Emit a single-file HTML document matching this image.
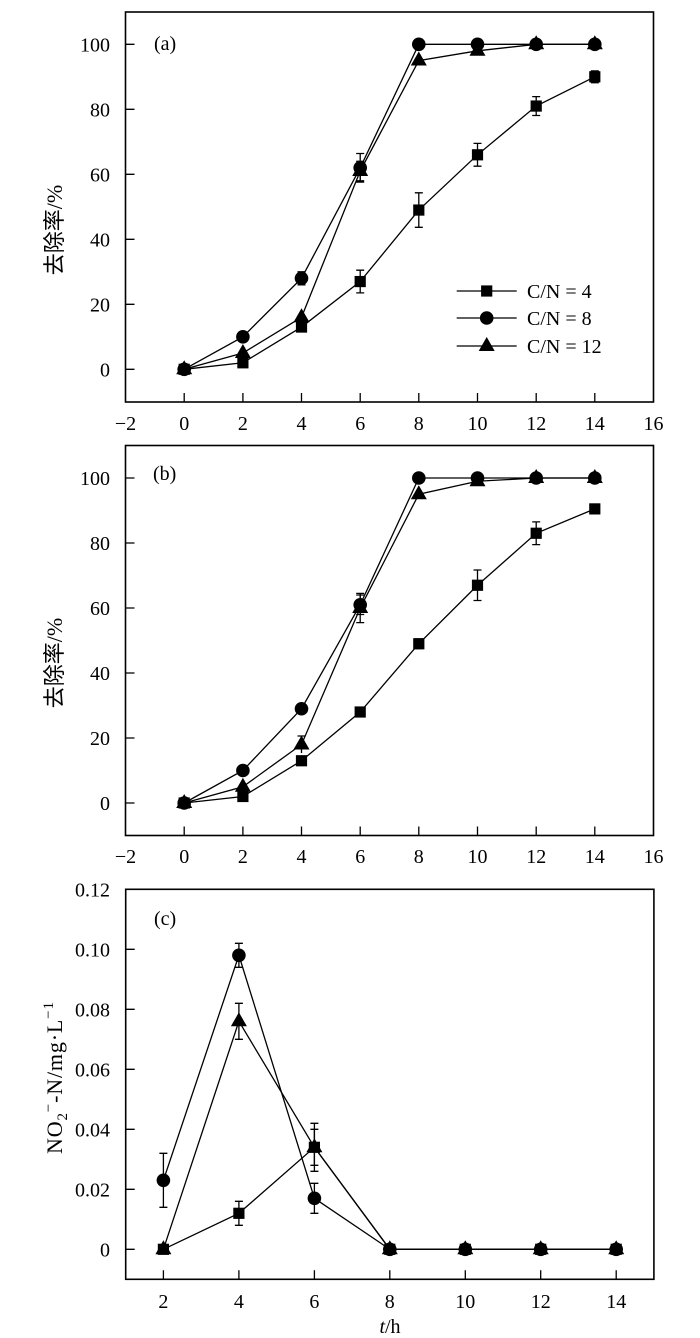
<!DOCTYPE html>
<html>
<head>
<meta charset="utf-8">
<style>
html,body{margin:0;padding:0;background:#fff;}
svg{display:block;}
text{font-family:"Liberation Serif","Noto Serif CJK SC",serif;font-size:20px;fill:#000;}
.cjk{font-family:"Liberation Serif","Noto Sans CJK SC",sans-serif;font-size:22px;}
</style>
</head>
<body>
<svg width="700" height="1338" viewBox="0 0 700 1338" xmlns="http://www.w3.org/2000/svg">
<defs>
  <rect id="sq" x="-5.6" y="-5.6" width="11.2" height="11.2" fill="#000"/>
  <circle id="ci" cx="0" cy="0" r="6.8" fill="#000"/>
  <path id="tr" d="M0,-9 L8,5 L-8,5 Z" fill="#000"/>
</defs>

<!-- ================= PANEL A ================= -->
<g fill="none" stroke="#000" stroke-width="1.3">
  <rect x="125.5" y="12" width="528" height="390" stroke-width="1.6"/>
  <path d="M125.5,369.3h9 M125.5,304.3h9 M125.5,239.3h9 M125.5,174.3h9 M125.5,109.3h9 M125.5,44.3h9"/>
  <path d="M184.2,402v-9 M242.9,402v-9 M301.5,402v-9 M360.2,402v-9 M418.8,402v-9 M477.5,402v-9 M536.2,402v-9 M594.8,402v-9"/>
</g>
<g text-anchor="end">
  <text x="110" y="376.3">0</text>
  <text x="110" y="311.3">20</text>
  <text x="110" y="246.3">40</text>
  <text x="110" y="181.3">60</text>
  <text x="110" y="116.3">80</text>
  <text x="110" y="51.3">100</text>
</g>
<g text-anchor="middle">
  <text x="125.5" y="430">−2</text>
  <text x="184.2" y="430">0</text>
  <text x="242.9" y="430">2</text>
  <text x="301.5" y="430">4</text>
  <text x="360.2" y="430">6</text>
  <text x="418.8" y="430">8</text>
  <text x="477.5" y="430">10</text>
  <text x="536.2" y="430">12</text>
  <text x="594.8" y="430">14</text>
  <text x="653.5" y="430">16</text>
</g>
<text x="154" y="50">(a)</text>
<text class="cjk" transform="translate(62,230) rotate(-90)" text-anchor="middle">去除率/%</text>

<!-- series a: square -->
<g stroke="#000" stroke-width="1.3" fill="none">
  <path d="M360.2,270.2V292.9 M356.2,270.2h8 M356.2,292.9h8"/>
  <path d="M418.8,192.8V227.3 M414.8,192.8h8 M414.8,227.3h8"/>
  <path d="M477.5,143.4V166.2 M473.5,143.4h8 M473.5,166.2h8"/>
  <path d="M536.2,96.6V115.5 M532.2,96.6h8 M532.2,115.5h8"/>
  <path d="M594.8,70.9V82.7 M590.8,70.9h8 M590.8,82.7h8"/>
  <polyline points="184.2,369.3 242.9,362.8 301.5,327.05 360.2,281.55 418.8,210.05 477.5,154.8 536.2,106.05 594.8,76.8"/>
</g>
<use href="#sq" x="184.2" y="369.3"/><use href="#sq" x="242.9" y="362.8"/><use href="#sq" x="301.5" y="327.05"/><use href="#sq" x="360.2" y="281.55"/><use href="#sq" x="418.8" y="210.05"/><use href="#sq" x="477.5" y="154.8"/><use href="#sq" x="536.2" y="106.05"/><use href="#sq" x="594.8" y="76.8"/>
<!-- circle -->
<g stroke="#000" stroke-width="1.3" fill="none">
  <path d="M301.5,271.8V284.8 M297.5,271.8h8 M297.5,284.8h8"/>
  <path d="M360.2,153.5V182.1 M356.2,153.5h8 M356.2,182.1h8"/>
  <polyline points="184.2,369.3 242.9,336.8 301.5,278.3 360.2,167.8 418.8,44.3 477.5,44.3 536.2,44.3 594.8,44.3"/>
</g>
<use href="#ci" x="184.2" y="369.3"/><use href="#ci" x="242.9" y="336.8"/><use href="#ci" x="301.5" y="278.3"/><use href="#ci" x="360.2" y="167.8"/><use href="#ci" x="418.8" y="44.3"/><use href="#ci" x="477.5" y="44.3"/><use href="#ci" x="536.2" y="44.3"/><use href="#ci" x="594.8" y="44.3"/>
<!-- triangle -->
<g stroke="#000" stroke-width="1.3" fill="none">
  <path d="M360.2,161.3V180.8 M356.2,161.3h8 M356.2,180.8h8"/>
  <polyline points="184.2,369.3 242.9,353.05 301.5,317.3 360.2,171.05 418.8,60.55 477.5,50.8 536.2,44.3 594.8,44.3"/>
</g>
<use href="#tr" x="184.2" y="369.3"/><use href="#tr" x="242.9" y="353.05"/><use href="#tr" x="301.5" y="317.3"/><use href="#tr" x="360.2" y="171.05"/><use href="#tr" x="418.8" y="60.55"/><use href="#tr" x="477.5" y="50.8"/><use href="#tr" x="536.2" y="44.3"/><use href="#tr" x="594.8" y="44.3"/>

<!-- legend -->
<g stroke="#000" stroke-width="1.3">
  <path d="M456.7,291H516.7 M456.7,318H516.7 M456.7,346H516.7"/>
</g>
<use href="#sq" x="486.7" y="291"/>
<use href="#ci" x="486.7" y="318"/>
<use href="#tr" x="486.7" y="346"/>
<text x="527" y="298">C/N = 4</text>
<text x="527" y="325">C/N = 8</text>
<text x="527" y="353">C/N = 12</text>

<!-- ================= PANEL B ================= -->
<g fill="none" stroke="#000" stroke-width="1.3">
  <rect x="125.5" y="445.5" width="528" height="390" stroke-width="1.6"/>
  <path d="M125.5,803h9 M125.5,738h9 M125.5,673h9 M125.5,608h9 M125.5,543h9 M125.5,478h9"/>
  <path d="M184.2,835.5v-9 M242.9,835.5v-9 M301.5,835.5v-9 M360.2,835.5v-9 M418.8,835.5v-9 M477.5,835.5v-9 M536.2,835.5v-9 M594.8,835.5v-9"/>
</g>
<g text-anchor="end">
  <text x="110" y="810">0</text>
  <text x="110" y="745">20</text>
  <text x="110" y="680">40</text>
  <text x="110" y="615">60</text>
  <text x="110" y="550">80</text>
  <text x="110" y="485">100</text>
</g>
<g text-anchor="middle">
  <text x="125.5" y="863">−2</text>
  <text x="184.2" y="863">0</text>
  <text x="242.9" y="863">2</text>
  <text x="301.5" y="863">4</text>
  <text x="360.2" y="863">6</text>
  <text x="418.8" y="863">8</text>
  <text x="477.5" y="863">10</text>
  <text x="536.2" y="863">12</text>
  <text x="594.8" y="863">14</text>
  <text x="653.5" y="863">16</text>
</g>
<text x="153" y="480">(b)</text>
<text class="cjk" transform="translate(62,663) rotate(-90)" text-anchor="middle">去除率/%</text>

<!-- square b -->
<g stroke="#000" stroke-width="1.3" fill="none">
  <path d="M418.8,638.9V648.6 M414.8,638.9h8 M414.8,648.6h8"/>
  <path d="M477.5,570V600.5 M473.5,570h8 M473.5,600.5h8"/>
  <path d="M536.2,521.9V544.6 M532.2,521.9h8 M532.2,544.6h8"/>
  <polyline points="184.2,803 242.9,796.5 301.5,760.75 360.2,712 418.8,643.75 477.5,585.25 536.2,533.25 594.8,508.9"/>
</g>
<use href="#sq" x="184.2" y="803"/><use href="#sq" x="242.9" y="796.5"/><use href="#sq" x="301.5" y="760.75"/><use href="#sq" x="360.2" y="712"/><use href="#sq" x="418.8" y="643.75"/><use href="#sq" x="477.5" y="585.25"/><use href="#sq" x="536.2" y="533.25"/><use href="#sq" x="594.8" y="508.9"/>
<!-- circle b -->
<g stroke="#000" stroke-width="1.3" fill="none">
  <path d="M360.2,595V614.5 M356.2,595h8 M356.2,614.5h8"/>
  <polyline points="184.2,803 242.9,770.5 301.5,708.75 360.2,604.75 418.8,478 477.5,478 536.2,478 594.8,478"/>
</g>
<use href="#ci" x="184.2" y="803"/><use href="#ci" x="242.9" y="770.5"/><use href="#ci" x="301.5" y="708.75"/><use href="#ci" x="360.2" y="604.75"/><use href="#ci" x="418.8" y="478"/><use href="#ci" x="477.5" y="478"/><use href="#ci" x="536.2" y="478"/><use href="#ci" x="594.8" y="478"/>
<!-- triangle b -->
<g stroke="#000" stroke-width="1.3" fill="none">
  <path d="M301.5,736V753 M297.5,736h8"/>
  <path d="M360.2,593.4V622.6 M356.2,593.4h8 M356.2,622.6h8"/>
  <polyline points="184.2,803 242.9,786.75 301.5,744.5 360.2,608 418.8,494.25 477.5,481.25 536.2,478 594.8,478"/>
</g>
<use href="#tr" x="184.2" y="803"/><use href="#tr" x="242.9" y="786.75"/><use href="#tr" x="301.5" y="744.5"/><use href="#tr" x="360.2" y="608"/><use href="#tr" x="418.8" y="494.25"/><use href="#tr" x="477.5" y="481.25"/><use href="#tr" x="536.2" y="478"/><use href="#tr" x="594.8" y="478"/>

<!-- ================= PANEL C ================= -->
<g fill="none" stroke="#000" stroke-width="1.3">
  <rect x="125.7" y="889.3" width="528.2" height="390" stroke-width="1.6"/>
  <path d="M125.7,1249.3h9 M125.7,1189.3h9 M125.7,1129.3h9 M125.7,1069.3h9 M125.7,1009.3h9 M125.7,949.3h9"/>
  <path d="M163.4,1279.3v-9 M238.9,1279.3v-9 M314.4,1279.3v-9 M389.8,1279.3v-9 M465.3,1279.3v-9 M540.7,1279.3v-9 M616.2,1279.3v-9"/>
</g>
<g text-anchor="end">
  <text x="110" y="1256.3">0</text>
  <text x="110" y="1196.3">0.02</text>
  <text x="110" y="1136.3">0.04</text>
  <text x="110" y="1076.3">0.06</text>
  <text x="110" y="1016.3">0.08</text>
  <text x="110" y="956.3">0.10</text>
  <text x="110" y="896.3">0.12</text>
</g>
<g text-anchor="middle">
  <text x="163.4" y="1308">2</text>
  <text x="238.9" y="1308">4</text>
  <text x="314.4" y="1308">6</text>
  <text x="389.8" y="1308">8</text>
  <text x="465.3" y="1308">10</text>
  <text x="540.7" y="1308">12</text>
  <text x="616.2" y="1308">14</text>
  <text x="390" y="1333"><tspan style="font-style:italic">t</tspan>/h</text>
</g>
<text x="154" y="925">(c)</text>
<text transform="translate(62,1078) rotate(-90)" text-anchor="middle" style="font-size:22px" textLength="152" lengthAdjust="spacing">NO<tspan style="font-size:15px" dy="5">2</tspan><tspan style="font-size:15px" dy="-14">−</tspan><tspan style="font-size:22px" dy="9">-N/mg·L</tspan><tspan style="font-size:15px" dy="-9">−1</tspan></text>

<!-- square c -->
<g stroke="#000" stroke-width="1.3" fill="none">
  <path d="M238.9,1201.3V1225.3 M234.9,1201.3h8 M234.9,1225.3h8"/>
  <path d="M314.4,1123.3V1171.3 M310.4,1123.3h8 M310.4,1171.3h8"/>
  <polyline points="163.4,1249.3 238.9,1213.3 314.4,1147.3 389.8,1249.3 465.3,1249.3 540.7,1249.3 616.2,1249.3"/>
</g>
<use href="#sq" x="163.4" y="1249.3"/><use href="#sq" x="238.9" y="1213.3"/><use href="#sq" x="314.4" y="1147.3"/><use href="#sq" x="389.8" y="1249.3"/><use href="#sq" x="465.3" y="1249.3"/><use href="#sq" x="540.7" y="1249.3"/><use href="#sq" x="616.2" y="1249.3"/>
<!-- circle c -->
<g stroke="#000" stroke-width="1.3" fill="none">
  <path d="M163.4,1153.3V1207.3 M159.4,1153.3h8 M159.4,1207.3h8"/>
  <path d="M238.9,943.3V967.3 M234.9,943.3h8 M234.9,967.3h8"/>
  <path d="M314.4,1183.3V1213.3 M310.4,1183.3h8 M310.4,1213.3h8"/>
  <polyline points="163.4,1180.3 238.9,955.3 314.4,1198.3 389.8,1249.3 465.3,1249.3 540.7,1249.3 616.2,1249.3"/>
</g>
<use href="#ci" x="163.4" y="1180.3"/><use href="#ci" x="238.9" y="955.3"/><use href="#ci" x="314.4" y="1198.3"/><use href="#ci" x="389.8" y="1249.3"/><use href="#ci" x="465.3" y="1249.3"/><use href="#ci" x="540.7" y="1249.3"/><use href="#ci" x="616.2" y="1249.3"/>
<!-- triangle c -->
<g stroke="#000" stroke-width="1.3" fill="none">
  <path d="M238.9,1003.3V1039.3 M234.9,1003.3h8 M234.9,1039.3h8"/>
  <path d="M314.4,1129.3V1165.3 M310.4,1129.3h8 M310.4,1165.3h8"/>
  <polyline points="163.4,1249.3 238.9,1021.3 314.4,1147.3 389.8,1249.3 465.3,1249.3 540.7,1249.3 616.2,1249.3"/>
</g>
<use href="#tr" x="163.4" y="1249.3"/><use href="#tr" x="238.9" y="1021.3"/><use href="#tr" x="314.4" y="1147.3"/><use href="#tr" x="389.8" y="1249.3"/><use href="#tr" x="465.3" y="1249.3"/><use href="#tr" x="540.7" y="1249.3"/><use href="#tr" x="616.2" y="1249.3"/>
</svg>
</body>
</html>
